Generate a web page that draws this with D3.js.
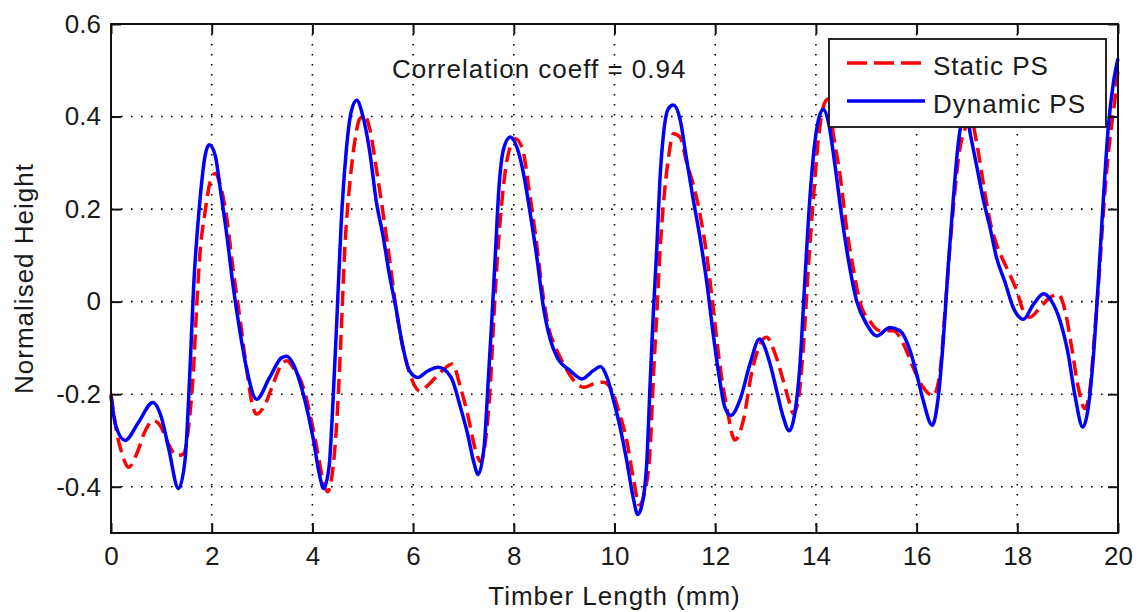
<!DOCTYPE html>
<html>
<head>
<meta charset="utf-8">
<script src="https://d3js.org/d3.v7.min.js"></script>
<style>
  body { margin: 0; background: #fff; }
  text { font-family: "Liberation Sans", Arial, sans-serif; fill: #1a1a1a; }
</style>
</head>
<body>
<svg id="chart"></svg>
<script>
// x ticks / y ticks
const xTicks = [0, 2, 4, 6, 8, 10, 12, 14, 16, 18, 20];
const yTicks = [-0.4, -0.2, 0, 0.2, 0.4, 0.6];

// Static PS (red dashed) : [timber length, normalised height]
const staticPS = [
  [0, -0.2], [0.12, -0.286], [0.22, -0.329], [0.35, -0.358], [0.51, -0.329], [0.68, -0.279],
  [0.84, -0.257], [0.98, -0.268], [1.14, -0.308], [1.31, -0.333], [1.44, -0.329], [1.54, -0.272],
  [1.64, -0.143], [1.70, -0.014], [1.77, 0.108], [1.87, 0.195], [1.97, 0.259], [2.07, 0.277],
  [2.17, 0.252], [2.30, 0.18], [2.43, 0.065], [2.56, -0.035], [2.69, -0.143], [2.79, -0.214],
  [2.89, -0.243], [3.06, -0.222], [3.22, -0.178], [3.39, -0.135], [3.49, -0.128], [3.62, -0.143],
  [3.82, -0.186], [3.98, -0.257], [4.11, -0.329], [4.21, -0.386], [4.30, -0.411], [4.41, -0.358],
  [4.49, -0.25], [4.57, -0.071], [4.64, 0.108], [4.74, 0.252], [4.84, 0.345], [4.94, 0.395],
  [5.04, 0.402], [5.14, 0.373], [5.27, 0.287], [5.40, 0.194], [5.53, 0.094], [5.66, -0.014],
  [5.80, -0.1], [5.96, -0.164], [6.13, -0.193], [6.32, -0.178], [6.55, -0.152], [6.78, -0.135],
  [6.94, -0.185], [7.08, -0.242], [7.24, -0.321], [7.34, -0.346], [7.44, -0.299], [7.54, -0.17],
  [7.60, -0.042], [7.67, 0.087], [7.77, 0.223], [7.87, 0.309], [8.03, 0.352], [8.17, 0.331],
  [8.30, 0.245], [8.43, 0.145], [8.56, 0.03], [8.69, -0.056], [8.83, -0.099], [8.99, -0.135],
  [9.19, -0.17], [9.39, -0.185], [9.58, -0.178], [9.78, -0.174], [9.95, -0.192], [10.08, -0.235],
  [10.24, -0.299], [10.38, -0.385], [10.49, -0.439], [10.61, -0.407], [10.71, -0.314], [10.77, -0.17],
  [10.84, -0.027], [10.90, 0.102], [10.97, 0.209], [11.07, 0.309], [11.17, 0.363], [11.30, 0.356],
  [11.43, 0.302], [11.60, 0.238], [11.70, 0.188], [11.83, 0.102], [11.96, -0.013], [12.09, -0.135],
  [12.23, -0.228], [12.39, -0.299], [12.56, -0.256], [12.72, -0.156], [13.02, -0.077], [13.19, -0.113],
  [13.35, -0.17], [13.48, -0.22], [13.55, -0.242], [13.65, -0.213], [13.75, -0.099], [13.85, 0.073],
  [13.95, 0.223], [14.05, 0.352], [14.18, 0.431], [14.25, 0.438], [14.34, 0.366], [14.48, 0.273],
  [14.61, 0.159], [14.74, 0.073], [14.87, 0.001], [15.07, -0.042], [15.27, -0.063], [15.54, -0.063],
  [15.74, -0.092], [15.93, -0.142], [16.13, -0.185], [16.33, -0.203], [16.46, -0.156], [16.56, -0.027],
  [16.66, 0.116], [16.76, 0.238], [16.86, 0.331], [16.96, 0.373], [17.08, 0.395], [17.19, 0.345],
  [17.32, 0.259], [17.46, 0.173], [17.59, 0.123], [17.79, 0.073], [17.99, 0.023], [18.12, -0.02],
  [18.25, -0.034], [18.45, -0.013], [18.65, 0.009], [18.81, 0.016], [18.95, -0.02], [19.08, -0.099],
  [19.21, -0.185], [19.34, -0.231], [19.44, -0.192], [19.54, -0.063], [19.64, 0.08], [19.74, 0.238],
  [19.84, 0.352], [19.94, 0.438], [20, 0.5]
];

// Dynamic PS (blue solid)
const dynamicPS = [
  [0, -0.205], [0.1, -0.27], [0.28, -0.30], [0.55, -0.26], [0.83, -0.218], [1.0, -0.25],
  [1.15, -0.32], [1.34, -0.404], [1.47, -0.343], [1.57, -0.143], [1.64, 0.03], [1.77, 0.223],
  [1.87, 0.316], [1.95, 0.339], [2.07, 0.316], [2.17, 0.244], [2.30, 0.144], [2.43, 0.03],
  [2.56, -0.064], [2.69, -0.143], [2.89, -0.211], [3.15, -0.164], [3.39, -0.121], [3.49, -0.118],
  [3.62, -0.135], [3.82, -0.2], [4.01, -0.293], [4.15, -0.379], [4.22, -0.404], [4.33, -0.358],
  [4.41, -0.214], [4.49, -0.028], [4.57, 0.166], [4.67, 0.323], [4.77, 0.41], [4.88, 0.435],
  [5.0, 0.402], [5.14, 0.323], [5.27, 0.216], [5.40, 0.144], [5.53, 0.058], [5.66, -0.014],
  [5.80, -0.1], [5.93, -0.15], [6.09, -0.164], [6.29, -0.15], [6.5, -0.142], [6.75, -0.163],
  [6.94, -0.228], [7.08, -0.285], [7.21, -0.349], [7.29, -0.374], [7.41, -0.314], [7.50, -0.156],
  [7.57, -0.027], [7.64, 0.116], [7.70, 0.238], [7.80, 0.331], [7.93, 0.356], [8.07, 0.331],
  [8.20, 0.273], [8.33, 0.188], [8.46, 0.094], [8.59, -0.013], [8.73, -0.084], [8.86, -0.12],
  [9.12, -0.149], [9.35, -0.167], [9.58, -0.149], [9.72, -0.14], [9.85, -0.163], [9.98, -0.213],
  [10.11, -0.271], [10.24, -0.342], [10.38, -0.428], [10.46, -0.46], [10.54, -0.442], [10.64, -0.349],
  [10.71, -0.17], [10.77, -0.027], [10.84, 0.116], [10.90, 0.259], [10.97, 0.359], [11.07, 0.417],
  [11.17, 0.425], [11.30, 0.395], [11.43, 0.309], [11.56, 0.223], [11.70, 0.137], [11.83, 0.044],
  [11.96, -0.07], [12.09, -0.17], [12.19, -0.228], [12.31, -0.246], [12.49, -0.213], [12.69, -0.135],
  [12.88, -0.081], [13.09, -0.135], [13.22, -0.192], [13.35, -0.249], [13.47, -0.279], [13.58, -0.242],
  [13.68, -0.142], [13.78, 0.044], [13.88, 0.223], [13.98, 0.345], [14.07, 0.401], [14.15, 0.416],
  [14.25, 0.387], [14.38, 0.294], [14.51, 0.186], [14.64, 0.094], [14.81, 0.001], [15.01, -0.049],
  [15.21, -0.074], [15.47, -0.056], [15.67, -0.063], [15.87, -0.106], [16.0, -0.156], [16.13, -0.213],
  [16.31, -0.267], [16.43, -0.206], [16.53, -0.084], [16.63, 0.08], [16.73, 0.223], [16.83, 0.345],
  [16.89, 0.388], [16.97, 0.42], [17.06, 0.366], [17.19, 0.295], [17.32, 0.223], [17.46, 0.159],
  [17.59, 0.094], [17.75, 0.044], [17.92, -0.013], [18.12, -0.038], [18.32, -0.006], [18.52, 0.017],
  [18.68, 0.001], [18.85, -0.042], [19.01, -0.113], [19.15, -0.206], [19.30, -0.271], [19.41, -0.228],
  [19.51, -0.12], [19.61, 0.044], [19.71, 0.223], [19.81, 0.381], [19.91, 0.474], [20, 0.525]
];

const legendNames = ['Static PS', 'Dynamic PS'];
const annotation = { x: 5.58, y: 0.483, text: 'Correlation coeff = 0.94' };

class ProfileChart {

    constructor( config ) {
        this.config = {
            parent: config.parent,
            width: config.width || 1139,
            height: config.height || 612,
            margin: config.margin || {top:24, right:21, bottom:79, left:111},
            xlabel: config.xlabel || '',
            ylabel: config.ylabel || ''
        };
        this.init();
    }

    init() {
        let self = this;

        self.svg = d3.select( self.config.parent )
            .attr('width', self.config.width)
            .attr('height', self.config.height);

        self.inner_width = self.config.width - self.config.margin.left - self.config.margin.right;
        self.inner_height = self.config.height - self.config.margin.top - self.config.margin.bottom;

        self.chart = self.svg.append('g')
            .attr('transform', `translate(${self.config.margin.left}, ${self.config.margin.top})`);

        self.xscale = d3.scaleLinear()
            .domain([0, 20])
            .range([0, self.inner_width]);

        self.yscale = d3.scaleLinear()
            .domain([-0.5, 0.6])
            .range([self.inner_height, 0]);

        self.line = d3.line()
            .x(d => self.xscale(d[0]))
            .y(d => self.yscale(d[1]))
            .curve(d3.curveMonotoneX);
    }

    render() {
        let self = this;
        const W = self.inner_width, H = self.inner_height;
        const fmt = d => d === 0 ? '0' : d.toFixed(1);

        // dotted grid
        const grid = self.chart.append('g')
            .attr('stroke', '#000')
            .attr('stroke-width', 1.6)
            .attr('stroke-dasharray', '1.6,8.4');
        grid.selectAll('.gx')
            .data(xTicks.slice(1, -1))
            .join('line')
            .attr('x1', d => self.xscale(d)).attr('x2', d => self.xscale(d))
            .attr('y1', 0).attr('y2', H);
        grid.selectAll('.gy')
            .data(yTicks.slice(0, -1))
            .join('line')
            .attr('y1', d => self.yscale(d)).attr('y2', d => self.yscale(d))
            .attr('x1', 0).attr('x2', W);

        // curves
        self.chart.append('path')
            .attr('d', self.line(staticPS))
            .attr('fill', 'none')
            .attr('stroke', '#ff0000')
            .attr('stroke-width', 3.5)
            .attr('stroke-dasharray', '15,7');

        self.chart.append('path')
            .attr('d', self.line(dynamicPS))
            .attr('fill', 'none')
            .attr('stroke', '#0000ff')
            .attr('stroke-width', 3.5)
            .attr('stroke-linejoin', 'round');

        // axes, ticks pointing inward on all four sides
        const styleAxis = g => {
            g.select('.domain').remove();
            g.selectAll('line').attr('stroke', '#111').attr('stroke-width', 2);
            g.selectAll('text').style('font-size', '26px').attr('fill', '#1a1a1a');
        };

        self.chart.append('g')
            .attr('transform', `translate(0, ${H})`)
            .call(d3.axisBottom(self.xscale).tickValues(xTicks).tickSizeInner(-10).tickSizeOuter(0).tickPadding(14))
            .call(styleAxis);

        self.chart.append('g')
            .call(d3.axisLeft(self.yscale).tickValues(yTicks).tickFormat(fmt).tickSizeInner(-10).tickSizeOuter(0).tickPadding(10))
            .call(styleAxis);

        self.chart.append('g')
            .call(d3.axisTop(self.xscale).tickValues(xTicks).tickFormat('').tickSizeInner(-10).tickSizeOuter(0))
            .call(styleAxis);

        self.chart.append('g')
            .attr('transform', `translate(${W}, 0)`)
            .call(d3.axisRight(self.yscale).tickValues(yTicks).tickFormat('').tickSizeInner(-10).tickSizeOuter(0))
            .call(styleAxis);

        self.chart.append('rect')
            .attr('width', W).attr('height', H)
            .attr('fill', 'none')
            .attr('stroke', '#111')
            .attr('stroke-width', 2);

        // annotation
        self.chart.append('text')
            .attr('x', self.xscale(annotation.x))
            .attr('y', self.yscale(annotation.y))
            .style('font-size', '26px')
            .style('letter-spacing', '1px')
            .text(annotation.text);

        // legend
        const lg = self.svg.append('g').attr('transform', 'translate(829, 39)');
        lg.append('rect')
            .attr('width', 277).attr('height', 88)
            .attr('fill', '#fff')
            .attr('stroke', '#111')
            .attr('stroke-width', 1.8);
        const rows = [
            { name: legendNames[0], color: '#ff0000', dash: '20,7', y: 24 },
            { name: legendNames[1], color: '#0000ff', dash: null, y: 62 }
        ];
        rows.forEach(r => {
            lg.append('line')
                .attr('x1', 18).attr('x2', 96)
                .attr('y1', r.y).attr('y2', r.y)
                .attr('stroke', r.color)
                .attr('stroke-width', 3.5)
                .attr('stroke-dasharray', r.dash);
            lg.append('text')
                .attr('x', 104).attr('y', r.y + 12)
                .style('font-size', '26px')
                .style('letter-spacing', '1px')
                .text(r.name);
        });

        // axis labels
        self.svg.append('text')
            .attr('x', self.config.margin.left + W / 2)
            .attr('y', 605)
            .attr('text-anchor', 'middle')
            .style('font-size', '26px')
            .style('letter-spacing', '1px')
            .text(self.config.xlabel);

        self.svg.append('text')
            .attr('transform', 'rotate(-90)')
            .attr('x', -(self.config.margin.top + H / 2))
            .attr('y', 33)
            .attr('text-anchor', 'middle')
            .style('font-size', '26px')
            .style('letter-spacing', '1px')
            .text(self.config.ylabel);
    }
}

const chart = new ProfileChart({
    parent: '#chart',
    xlabel: 'Timber Length (mm)',
    ylabel: 'Normalised Height'
});
chart.render();
</script>
</body>
</html>
